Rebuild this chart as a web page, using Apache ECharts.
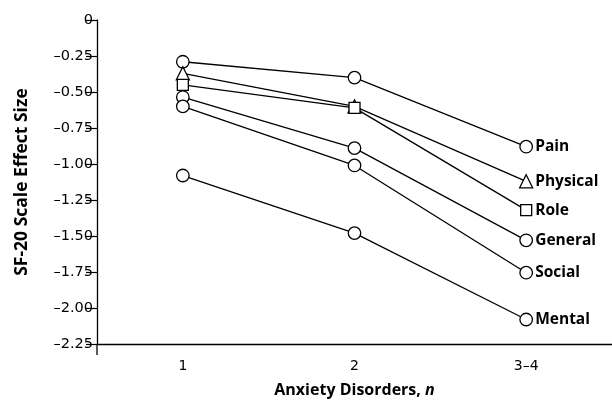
<!DOCTYPE html>
<html><head><meta charset="utf-8">
<script src="https://cdn.jsdelivr.net/npm/echarts@6/dist/echarts.min.js"></script>
<style>html,body{margin:0;padding:0;background:#fff}#c{width:612px;height:414px}</style>
</head><body><div id="c"></div>
<script>
const categories = ['1', '2', '3\u20134'];
const pain = [-0.29, -0.40, -0.88];
const physical = [-0.37, -0.60, -1.12];
const role = [-0.45, -0.61, -1.32];
const general = [-0.535, -0.89, -1.53];
const social = [-0.60, -1.01, -1.755];
const mental = [-1.08, -1.48, -2.08];
const yMin = -2.25, yMax = 0, yStep = 0.25;

const FONT = 'Open Sans';
const TICKFONT = 'DejaVu Sans';
function mk(name, data, symbol, size) {
  return {
    name: name, type: 'line', data: data, symbol: symbol, symbolSize: size,
    lineStyle: {color: '#000', width: 1.3},
    itemStyle: {color: '#fff', borderColor: '#000', borderWidth: 1.3},
    endLabel: {show: true, formatter: '{a}', distance: 9, color: '#000',
      fontFamily: FONT, fontWeight: 'bold', fontSize: 15.5},
    emphasis: {disabled: true}, animation: false, z: 3
  };
}
const chart = echarts.init(document.getElementById('c'), null, {renderer: 'canvas'});
chart.setOption({
  backgroundColor: '#fff',
  animation: false,
  grid: {left: 97, right: 0, top: 20, bottom: 70, containLabel: false},
  xAxis: {
    type: 'category', data: categories, boundaryGap: true,
    axisLine: {onZero: false, lineStyle: {color: '#000', width: 1.3}},
    axisTick: {show: false},
    axisLabel: {color: '#000', fontFamily: TICKFONT, fontSize: 14, margin: 15},
    name: 'Anxiety Disorders, {i|n}', nameLocation: 'middle', nameGap: 38,
    nameTextStyle: {color: '#000', fontFamily: FONT, fontWeight: 'bold', fontSize: 16,
      rich: {i: {fontStyle: 'italic', fontWeight: 'bold', fontFamily: FONT, fontSize: 16, color: '#000'}}}
  },
  yAxis: {
    type: 'value', min: yMin, max: yMax, interval: yStep,
    axisLine: {show: true, onZero: false, lineStyle: {color: '#000', width: 1.3}},
    axisTick: {show: true, length: 11, lineStyle: {color: '#000', width: 1.2}},
    splitLine: {show: false},
    axisLabel: {color: '#000', fontFamily: TICKFONT, fontSize: 14.5, margin: 4,
      formatter: v => v === 0 ? '0' : '\u2013' + Math.abs(v).toFixed(2)},
    name: 'SF-20 Scale Effect Size', nameLocation: 'middle', nameGap: 66, nameRotate: 90,
    nameTextStyle: {color: '#000', fontFamily: FONT, fontWeight: 'bold', fontSize: 17.5}
  },
  series: [
    mk('Pain', pain, 'circle', 12.5),
    mk('Physical', physical, 'triangle', 13),
    mk('Role', role, 'rect', 11),
    mk('General', general, 'circle', 12.5),
    mk('Social', social, 'circle', 12.5),
    mk('Mental', mental, 'circle', 12.5)
  ]
});
const p = chart.convertToPixel({gridIndex: 0}, [0, yMin]);
const xAxisX = chart.getModel().getComponent('grid').coordinateSystem.getRect().x;
chart.setOption({graphic: [{type: 'line', shape: {x1: xAxisX, y1: p[1], x2: xAxisX, y2: p[1] + 11},
  style: {stroke: '#000', lineWidth: 1.3}, silent: true}]});
</script></body></html>
